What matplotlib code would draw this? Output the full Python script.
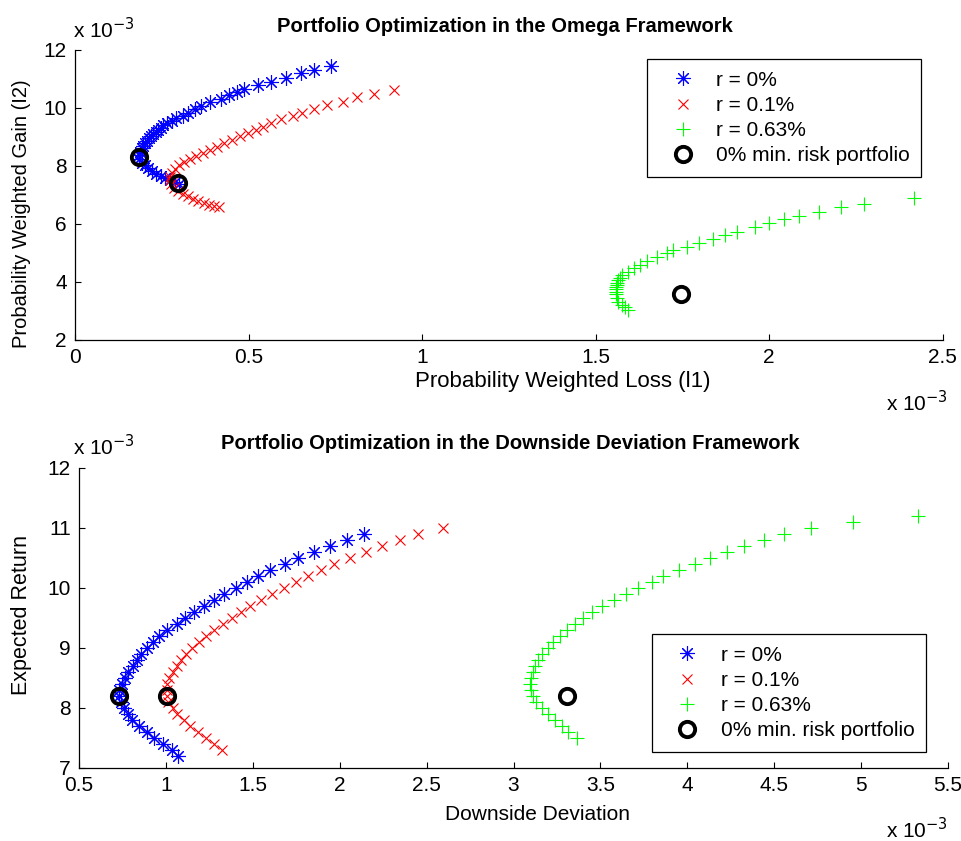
import matplotlib
matplotlib.use('Agg')
import matplotlib.pyplot as plt

plt.rcParams['font.family'] = ['Liberation Sans', 'DejaVu Sans']

# ---------------- data (values in units of 1e-3) ----------------
series_labels = ['r = 0%', 'r = 0.1%', 'r = 0.63%']
circle_label = '0% min. risk portfolio'

# Omega framework: probability weighted loss (l1) vs gain (l2)
omega_loss_r0 = [0.300, 0.287, 0.273, 0.260, 0.247, 0.234, 0.222, 0.210, 0.200, 0.192,
                 0.185,
                 0.184, 0.187, 0.192, 0.196, 0.201, 0.207, 0.213, 0.219, 0.225, 0.232,
                 0.240, 0.247, 0.254, 0.265, 0.278, 0.290, 0.310, 0.326, 0.345, 0.362,
                 0.388, 0.420, 0.444, 0.467, 0.487, 0.528, 0.564, 0.607, 0.650, 0.689, 0.737]
omega_gain_r0 = [7.38, 7.43, 7.49, 7.56, 7.64, 7.72, 7.81, 7.91, 8.01, 8.11,
                 8.22,
                 8.36, 8.48, 8.60, 8.68, 8.77, 8.85, 8.94, 9.01, 9.09, 9.16,
                 9.23, 9.31, 9.40, 9.47, 9.55, 9.63, 9.72, 9.81, 9.94, 10.06,
                 10.21, 10.29, 10.44, 10.55, 10.63, 10.78, 10.90, 11.01, 11.19, 11.30, 11.45]

omega_loss_r01 = [0.415, 0.400, 0.385, 0.370, 0.355, 0.340, 0.325, 0.310, 0.296, 0.284,
                  0.276, 0.272, 0.274, 0.280, 0.289, 0.300, 0.314, 0.330, 0.348, 0.367,
                  0.388, 0.408, 0.428, 0.451, 0.474, 0.497, 0.520, 0.540, 0.563, 0.592,
                  0.627, 0.654, 0.689, 0.725, 0.771, 0.811, 0.862, 0.918]
omega_gain_r01 = [6.57, 6.61, 6.66, 6.72, 6.79, 6.86, 6.94, 7.03, 7.13, 7.24,
                  7.36, 7.49, 7.62, 7.76, 7.90, 8.02, 8.12, 8.22, 8.32, 8.43,
                  8.54, 8.66, 8.77, 8.89, 9.01, 9.12, 9.23, 9.32, 9.46, 9.60,
                  9.72, 9.81, 9.94, 10.09, 10.21, 10.36, 10.47, 10.62]

omega_loss_r063 = [1.594, 1.584, 1.575, 1.565, 1.560, 1.558, 1.558,
                   1.558, 1.559, 1.560, 1.562, 1.565, 1.570, 1.575, 1.594, 1.610, 1.628,
                   1.647, 1.676, 1.705, 1.724, 1.762, 1.799, 1.837, 1.873, 1.906, 1.959,
                   2.000, 2.044, 2.087, 2.144, 2.207, 2.274, 2.418]
omega_gain_r063 = [3.02, 3.14, 3.20, 3.31, 3.43, 3.58, 3.66,
                   3.74, 3.82, 3.89, 3.97, 4.06, 4.14, 4.23, 4.34, 4.46, 4.58,
                   4.72, 4.84, 4.98, 5.09, 5.19, 5.32, 5.46, 5.61, 5.72, 5.88,
                   6.01, 6.15, 6.27, 6.41, 6.57, 6.67, 6.90]

omega_min_loss = [0.184, 0.297, 1.745]
omega_min_gain = [8.29, 7.39, 3.58]

# Downside deviation framework
dd_return_r0 = [7.2, 7.3, 7.4, 7.5, 7.6, 7.7, 7.8, 7.9, 8.0, 8.1, 8.2, 8.3, 8.4, 8.5, 8.6,
                8.7, 8.8, 8.9, 9.0, 9.1, 9.2, 9.3, 9.4, 9.5, 9.6, 9.7, 9.8, 9.9, 10.0,
                10.1, 10.2, 10.3, 10.4, 10.5, 10.6, 10.7, 10.8, 10.9]
dd_dev_r0 = [1.072, 1.033, 0.981, 0.934, 0.893, 0.845, 0.803, 0.784, 0.759, 0.742,
             0.730, 0.731, 0.746, 0.765, 0.784, 0.809, 0.836, 0.855, 0.893, 0.928,
             0.962, 1.008, 1.062, 1.110, 1.164, 1.219, 1.277, 1.336, 1.403, 1.465,
             1.532, 1.599, 1.685, 1.762, 1.852, 1.944, 2.040, 2.140]

dd_return_r01 = [7.3, 7.4, 7.5, 7.6, 7.7, 7.8, 7.9, 8.0, 8.1, 8.2, 8.3, 8.4, 8.5, 8.6,
                 8.7, 8.8, 8.9, 9.0, 9.1, 9.2, 9.3, 9.4, 9.5, 9.6, 9.7, 9.8, 9.9, 10.0,
                 10.1, 10.2, 10.3, 10.4, 10.5, 10.6, 10.7, 10.8, 10.9, 11.0]
dd_dev_r01 = [1.325, 1.279, 1.229, 1.183, 1.139, 1.106, 1.066, 1.043, 1.014, 1.004,
              1.004, 1.008, 1.018, 1.039, 1.062, 1.085, 1.116, 1.152, 1.192, 1.231,
              1.277, 1.327, 1.378, 1.430, 1.484, 1.545, 1.609, 1.680, 1.747, 1.820,
              1.890, 1.967, 2.059, 2.151, 2.241, 2.347, 2.452, 2.592]

dd_return_r063 = [7.5, 7.6, 7.7, 7.8, 7.9, 8.0, 8.1, 8.2, 8.3, 8.4, 8.5, 8.6, 8.7, 8.8,
                  8.9, 9.0, 9.1, 9.2, 9.3, 9.4, 9.5, 9.6, 9.7, 9.8, 9.9, 10.0, 10.1,
                  10.2, 10.3, 10.4, 10.5, 10.6, 10.7, 10.8, 10.9, 11.0, 11.1, 11.2]
dd_dev_r063 = [3.363, 3.315, 3.277, 3.239, 3.200, 3.162, 3.129, 3.110, 3.099, 3.095,
               3.099, 3.110, 3.124, 3.143, 3.162, 3.200, 3.229, 3.268, 3.310, 3.354,
               3.398, 3.450, 3.507, 3.580, 3.645, 3.718, 3.795, 3.862, 3.952, 4.044,
               4.131, 4.226, 4.328, 4.443, 4.556, 4.710, 4.955, 5.329]

dd_min_dev = [0.730, 1.004, 3.306]
dd_min_return = [8.2, 8.2, 8.2]

top_xticks = [0, 0.5, 1, 1.5, 2, 2.5]
top_xticklabels = ['0', '0.5', '1', '1.5', '2', '2.5']
top_yticks = [2, 4, 6, 8, 10, 12]
bot_xticks = [0.5, 1, 1.5, 2, 2.5, 3, 3.5, 4, 4.5, 5, 5.5]
bot_xticklabels = ['0.5', '1', '1.5', '2', '2.5', '3', '3.5', '4', '4.5', '5', '5.5']
bot_yticks = [7, 8, 9, 10, 11, 12]

# ---------------- figure ----------------
W, H = 962, 841
fig = plt.figure(figsize=(W / 100, H / 100), dpi=100)

FS = 15
TFS = 14.5


def fx(px):
    return px / W


def fy(py):
    return 1 - py / H


ax1 = fig.add_axes([fx(75.2), fy(339.7), 867.5 / W, 290 / H])
ax2 = fig.add_axes([fx(79), fy(767.7), 869 / W, 300 / H])

styles = [
    dict(marker=(8, 2, 0), color=(0, 0, 1), ms=10.5, mew=0.8),
    dict(marker='x', color=(1, 0, 0), ms=6.5, mew=0.8),
    dict(marker='+', color=(0, 1, 0), ms=10.5, mew=0.8),
]
circ = dict(marker='o', mfc='none', mec='black', ms=11, mew=2.8, ls='none')


def draw(ax, xs, ys, cx, cy):
    for (x, y), st, lab in zip(zip(xs, ys), styles, series_labels):
        ax.plot(x, y, ls='none', marker=st['marker'], color=st['color'],
                ms=st['ms'], mew=st['mew'], label=lab)
    ax.plot(cx, cy, label=circle_label, zorder=5, **circ)
    for s in ['top', 'right']:
        ax.spines[s].set_visible(False)
    for s in ['left', 'bottom']:
        ax.spines[s].set_linewidth(0.9)
    ax.tick_params(direction='in', length=4.5, width=0.8, labelsize=FS, pad=6)


draw(ax1, [omega_loss_r0, omega_loss_r01, omega_loss_r063],
     [omega_gain_r0, omega_gain_r01, omega_gain_r063], omega_min_loss, omega_min_gain)
draw(ax2, [dd_dev_r0, dd_dev_r01, dd_dev_r063],
     [dd_return_r0, dd_return_r01, dd_return_r063], dd_min_dev, dd_min_return)

ax1.set_xlim(0, 2.5)
ax1.set_ylim(2, 12)
ax1.set_xticks(top_xticks)
ax1.set_xticklabels(top_xticklabels)
ax1.set_yticks(top_yticks)

ax2.set_xlim(0.5, 5.5)
ax2.set_ylim(7, 12)
ax2.set_xticks(bot_xticks)
ax2.set_xticklabels(bot_xticklabels)
ax2.set_yticks(bot_yticks)

leg_kw = dict(loc='upper left', numpoints=1, fontsize=FS, frameon=True, fancybox=False,
              framealpha=1, edgecolor='black', handlelength=2.3, handletextpad=0.45,
              borderpad=0.56, labelspacing=0.3, borderaxespad=0)
l1 = ax1.legend(bbox_to_anchor=(0.659, 0.968), **leg_kw)
l2 = ax2.legend(bbox_to_anchor=(0.659, 0.4457), **leg_kw)
for lg in (l1, l2):
    lg.get_frame().set_linewidth(0.9)

# titles and labels
fig.text(fx(505), fy(27), 'Portfolio Optimization in the Omega Framework',
         ha='center', va='center', fontsize=TFS, fontweight='bold')
fig.text(fx(510), fy(444), 'Portfolio Optimization in the Downside Deviation Framework',
         ha='center', va='center', fontsize=TFS, fontweight='bold')
fig.text(fx(563), fy(382), 'Probability Weighted Loss (l1)', ha='center', va='center', fontsize=16)
fig.text(fx(538), fy(815), 'Downside Deviation', ha='center', va='center', fontsize=15)
fig.text(fx(22), fy(214), 'Probability Weighted Gain (I2)', ha='center', va='center',
         rotation=90, fontsize=14.5)
fig.text(fx(22), fy(615), 'Expected Return', ha='center', va='center', rotation=90, fontsize=15.5)

# exponent labels
for (px, py) in [(73, 30), (886, 403), (73, 447), (886, 830)]:
    fig.text(fx(px), fy(py), r'x 10$^{-3}$', ha='left', va='center', fontsize=FS,
             math_fontfamily='custom')

fig.savefig('out.png', dpi=100)
